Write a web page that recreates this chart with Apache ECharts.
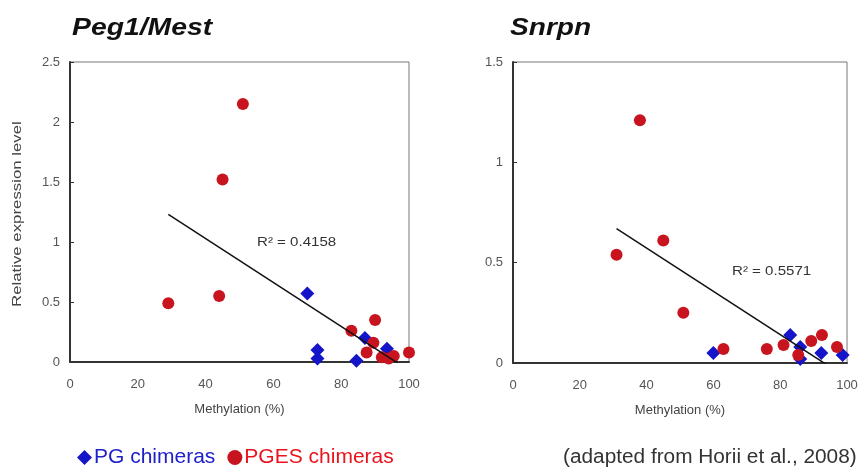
<!DOCTYPE html>
<html>
<head>
<meta charset="utf-8">
<script src="https://cdn.jsdelivr.net/npm/echarts@6/dist/echarts.min.js"></script>
<style>
  html, body { margin: 0; padding: 0; background: #fff; }
  #chart { width: 864px; height: 471px; }
</style>
</head>
<body>
<div id="chart"></div>
<script>
// Peg1/Mest panel, [methylation %, relative expression]
const pegPG = [[70, 0.57], [73, 0.1], [73, 0.03], [84.5, 0.01], [87, 0.2], [93.5, 0.11], [94.5, 0.04]]
const pegPGES = [[29, 0.49], [44, 0.55], [45, 1.52], [51, 2.15], [83, 0.26], [87.5, 0.08], [89.5, 0.16],
  [90, 0.35], [92, 0.04], [94, 0.03], [95.5, 0.05], [100, 0.08]]
const pegTrend = [[29, 1.23], [100, -0.07]]

// Snrpn panel
const snrPG = [[60, 0.05], [83, 0.14], [86, 0.08], [86, 0.02], [92.3, 0.05], [98.7, 0.04]]
const snrPGES = [[31, 0.54], [38, 1.21], [45, 0.61], [51, 0.25], [63, 0.07], [76, 0.07], [81, 0.09],
  [85.4, 0.04], [89.3, 0.11], [92.5, 0.14], [97, 0.08]]
const snrTrend = [[31, 0.67], [98.7, -0.06]]

const xTicks = [0, 20, 40, 60, 80, 100]
const r2Labels = ['R\u00b2 = 0.4158', 'R\u00b2 = 0.5571']

const font = '"Liberation Sans", Arial, sans-serif'
const blue = '#1414c8'
const red = '#c8141e'

const chart = echarts.init(document.getElementById('chart'))

function xAxis(gridIndex) {
  return {
    gridIndex, type: 'value', min: 0, max: 100, interval: 20,
    name: 'Methylation (%)', nameLocation: 'middle', nameGap: 41,
    nameTextStyle: { fontFamily: font, fontSize: 13, color: '#444' },
    axisLine: { lineStyle: { color: '#333', width: 2 } },
    axisTick: { show: false },
    axisLabel: { fontFamily: font, fontSize: 13, color: '#555', margin: 16,
      formatter: v => xTicks.includes(v) ? String(v) : '' },
    splitLine: { show: false }
  }
}

function yAxis(gridIndex, max) {
  return {
    gridIndex, type: 'value', min: 0, max, interval: 0.5,
    axisLine: { onZero: false, lineStyle: { color: '#333', width: 2 } },
    axisTick: { show: true, inside: true, length: 4, lineStyle: { color: '#333' } },
    axisLabel: { fontFamily: font, fontSize: 13, color: '#555', margin: 10 },
    splitLine: { show: false }
  }
}

function pg(name, data, idx) {
  return { name, type: 'scatter', xAxisIndex: idx, yAxisIndex: idx, data,
    symbol: 'diamond', symbolSize: 14, itemStyle: { color: blue, opacity: 1 }, z: 3 }
}
function pges(name, data, idx) {
  return { name, type: 'scatter', xAxisIndex: idx, yAxisIndex: idx, data,
    symbol: 'circle', symbolSize: 12, itemStyle: { color: red, opacity: 1 }, z: 4 }
}
function trend(data, idx) {
  return { type: 'line', xAxisIndex: idx, yAxisIndex: idx, data, clip: true,
    symbol: 'none', lineStyle: { color: '#111', width: 1.5 }, z: 5, silent: true }
}

function label(text, x, y, size, extra) {
  return Object.assign({ type: 'text', x, y,
    style: Object.assign({ text, fontFamily: font, fontSize: size, fill: '#333', verticalAlign: 'middle' },
      extra.style || {}) }, extra.el || {})
}

chart.setOption({
  animation: false,
  grid: [
    { left: 70, right: 455, top: 62, bottom: 109, show: true, borderColor: '#777', borderWidth: 1 },
    { left: 513, right: 17, top: 62, bottom: 108, show: true, borderColor: '#777', borderWidth: 1 }
  ],
  xAxis: [xAxis(0), xAxis(1)],
  yAxis: [yAxis(0, 2.5), yAxis(1, 1.5)],
  legend: {
    left: 72, top: 442, itemGap: 12, itemWidth: 15, itemHeight: 15,
    selectedMode: false,
    textStyle: { fontFamily: font, fontSize: 21, padding: [0, 0, 0, -3] },
    data: [
      { name: 'PG chimeras', icon: 'diamond', textStyle: { color: '#2020c8' } },
      { name: 'PGES chimeras', icon: 'circle', textStyle: { color: '#e8141e' } }
    ]
  },
  graphic: [
    label('Peg1/Mest', 72, 28, 24, { style: { fontWeight: 'bold', fontStyle: 'italic', fill: '#111' },
      el: { scaleX: 1.18 } }),
    label('Snrpn', 510, 28, 24, { style: { fontWeight: 'bold', fontStyle: 'italic', fill: '#111' },
      el: { scaleX: 1.17 } }),
    label('Relative expression level', 18, 307, 12, { style: { fill: '#444' },
      el: { rotation: Math.PI / 2, scaleX: 1.4 } }),
    label(r2Labels[0], 257, 242, 13, { el: { scaleX: 1.16 } }),
    label(r2Labels[1], 732, 271, 13, { el: { scaleX: 1.16 } }),
    label('(adapted from Horii et al., 2008)', 563, 457, 20, { el: { scaleX: 1.04 } })
  ],
  series: [
    pg('PG chimeras', pegPG, 0),
    pges('PGES chimeras', pegPGES, 0),
    trend(pegTrend, 0),
    pg('PG chimeras', snrPG, 1),
    pges('PGES chimeras', snrPGES, 1),
    trend(snrTrend, 1)
  ]
})
</script>
</body>
</html>
